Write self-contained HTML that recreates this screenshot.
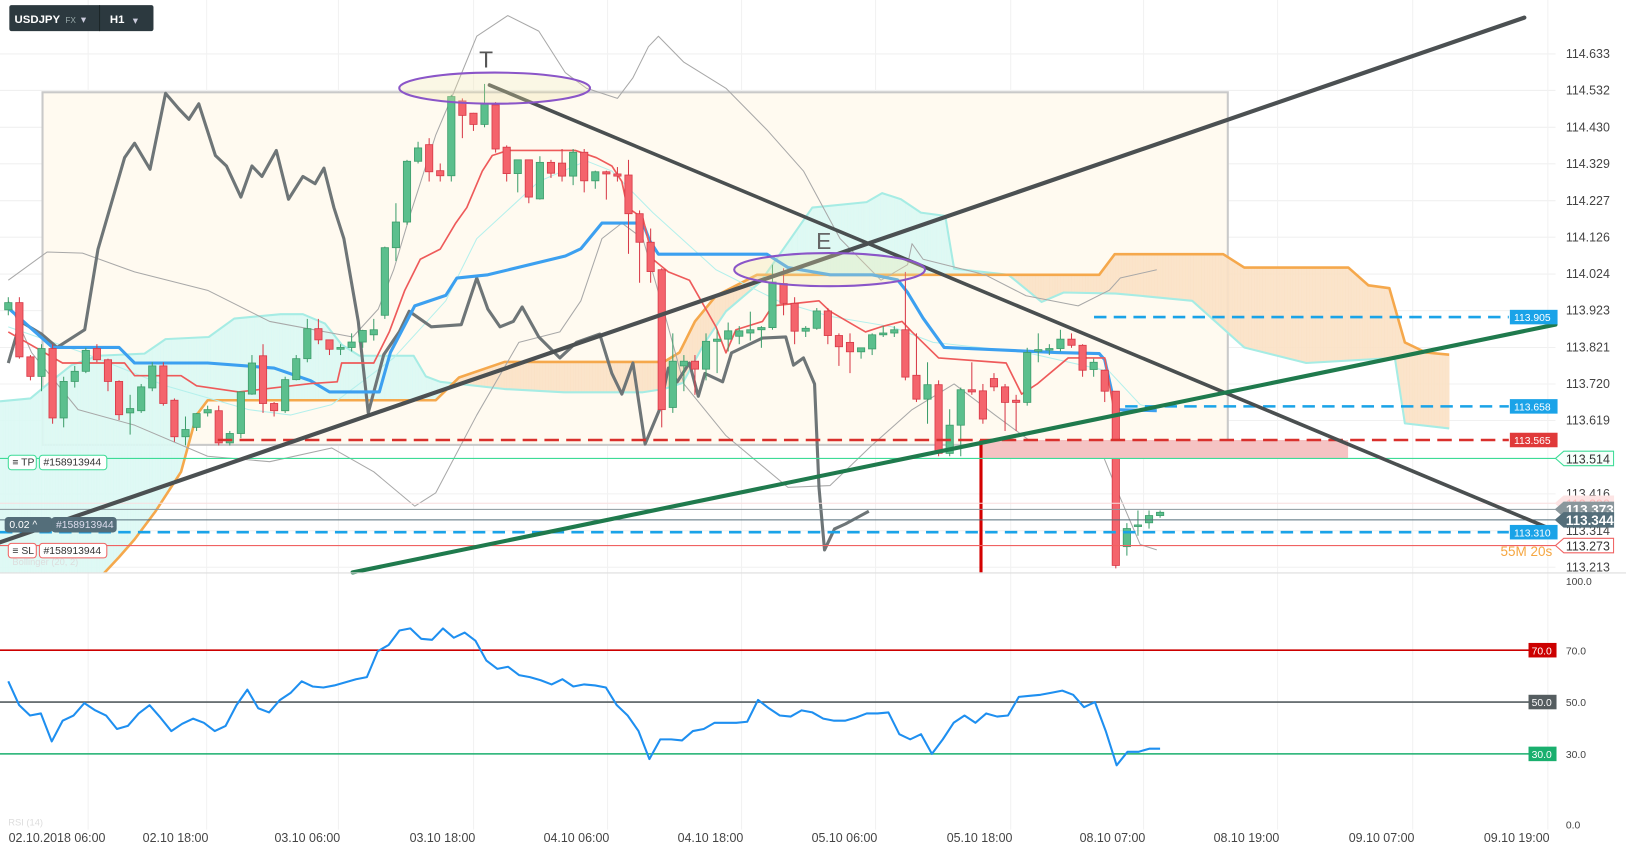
<!DOCTYPE html>
<html><head><meta charset="utf-8"><style>
html,body{margin:0;padding:0;background:#fff;width:1626px;height:855px;overflow:hidden}
svg{display:block;font-family:"Liberation Sans",sans-serif}
</style></head><body>
<svg id="chart" width="1626" height="855" viewBox="0 0 1568 824.5" preserveAspectRatio="none">
<defs><clipPath id="plotClip"><rect x="0" y="0" width="1500" height="552"/></clipPath>
<clipPath id="rsiClip"><rect x="0" y="553" width="1500" height="250"/></clipPath></defs>
<g id="grid"></g>
<rect x="41" y="89" width="1143" height="340" fill="#fffaf0" stroke="#c9c9c9" stroke-width="2"/>
<g id="cloud" clip-path="url(#plotClip)"></g>
<g id="lines" clip-path="url(#plotClip)"></g>
<g id="candles" clip-path="url(#plotClip)"></g>
<g id="overlay"></g>
<g id="rsi"></g>
<g id="axes"></g>
</svg>
<script>
// ---------- DATA ----------
const priceTicks=[114.633,114.532,114.430,114.329,114.227,114.126,114.024,113.923,113.821,113.720,113.619,113.416,113.314,113.213];
const timeLabels=["02.10.2018  06:00","02.10  18:00","03.10  06:00","03.10  18:00","04.10  06:00","04.10  18:00","05.10  06:00","05.10  18:00","08.10  07:00","08.10  19:00","09.10  07:00","09.10  19:00"];
const timeLabelBars=[4.4,15.1,27,39.2,51.3,63.4,75.5,87.7,99.7,111.8,124,136.2];
const opens=[113.925,113.945,113.795,113.741,113.818,113.626,113.727,113.755,113.818,113.787,113.727,113.640,113.646,113.709,113.770,113.675,113.574,113.600,113.640,113.646,113.557,113.583,113.692,113.798,113.666,113.646,113.732,113.790,113.873,113.842,113.816,113.821,113.836,113.856,113.910,114.097,114.168,114.336,114.382,114.310,114.296,114.503,114.469,114.438,114.492,114.375,114.302,114.340,114.232,114.333,114.331,114.295,114.361,114.282,114.307,114.301,114.298,114.191,114.112,114.036,113.655,113.770,113.783,113.761,113.838,113.844,113.852,113.861,113.870,113.876,113.998,113.943,113.866,113.874,113.922,113.854,113.835,113.809,113.817,113.856,113.861,113.870,113.744,113.678,113.718,113.528,113.606,113.704,113.701,113.735,113.712,113.675,113.669,113.813,113.815,113.818,113.844,113.827,113.760,113.758,113.700,113.270,113.326,113.336,113.356];
const closes=[113.945,113.795,113.741,113.818,113.626,113.727,113.755,113.813,113.787,113.727,113.635,113.652,113.712,113.770,113.666,113.574,113.594,113.638,113.649,113.557,113.583,113.698,113.778,113.666,113.646,113.732,113.790,113.873,113.842,113.816,113.821,113.836,113.868,113.870,114.097,114.168,114.336,114.373,114.307,114.296,114.515,114.463,114.438,114.495,114.370,114.302,114.340,114.237,114.333,114.303,114.295,114.361,114.282,114.307,114.301,114.295,114.191,114.112,114.031,113.649,113.783,113.783,113.761,113.838,113.844,113.867,113.867,113.870,113.876,114.002,113.943,113.866,113.874,113.922,113.854,113.823,113.809,113.820,113.856,113.861,113.870,113.739,113.678,113.718,113.528,113.606,113.704,113.698,113.623,113.712,113.669,113.669,113.807,113.815,113.818,113.844,113.827,113.758,113.780,113.700,113.218,113.320,113.330,113.356,113.365];
const highs=[113.96,113.96,113.80,113.83,113.83,113.74,113.77,113.82,113.83,113.79,113.73,113.69,113.72,113.78,113.78,113.68,113.63,113.64,113.66,113.66,113.59,113.70,113.80,113.83,113.67,113.74,113.80,113.90,113.90,113.84,113.83,113.86,113.87,113.90,114.10,114.22,114.34,114.39,114.40,114.33,114.52,114.51,114.47,114.55,114.50,114.38,114.34,114.34,114.35,114.34,114.37,114.37,114.37,114.31,114.31,114.32,114.34,114.20,114.15,114.04,113.86,113.80,113.80,113.86,113.87,113.89,113.88,113.92,113.88,114.05,114.04,113.96,113.88,113.93,113.93,113.86,113.86,113.82,113.86,113.88,113.88,114.03,113.86,113.78,113.73,113.65,113.71,113.78,113.72,113.75,113.72,113.69,113.82,113.86,113.83,113.87,113.86,113.83,113.79,113.76,113.70,113.335,113.37,113.37,113.37];
const lows=[113.91,113.79,113.73,113.70,113.61,113.60,113.71,113.75,113.78,113.70,113.62,113.58,113.64,113.70,113.66,113.56,113.55,113.59,113.63,113.55,113.55,113.57,113.69,113.64,113.63,113.64,113.73,113.78,113.83,113.80,113.80,113.81,113.82,113.84,113.90,114.06,114.16,114.33,114.28,114.28,114.28,114.40,114.42,114.43,114.36,114.28,114.25,114.22,114.23,114.29,114.28,114.27,114.25,114.26,114.23,114.28,114.08,114.00,114.00,113.60,113.64,113.70,113.69,113.73,113.75,113.81,113.83,113.84,113.82,113.87,113.91,113.83,113.85,113.87,113.83,113.77,113.75,113.79,113.80,113.85,113.85,113.73,113.67,113.61,113.52,113.52,113.52,113.69,113.61,113.70,113.59,113.59,113.66,113.78,113.80,113.81,113.82,113.74,113.74,113.67,113.21,113.245,113.30,113.32,113.35];
const kijunBars=[0,4,10,11.4,18,24,27.3,29,33.5,34.5,36.7,39.5,40.5,43.3,50.3,51.7,53.6,57.3,57.9,58.7,68.5,70.4,74.2,78,80.3,81.2,82.6,84.5,94.7,98.5,99,100,103.7];
const kijunVals=[113.930,113.821,113.821,113.778,113.778,113.764,113.729,113.698,113.698,113.807,113.936,113.965,114.013,114.022,114.074,114.094,114.165,114.165,114.117,114.079,114.079,114.042,114.022,114.022,114.008,113.973,113.902,113.821,113.807,113.804,113.787,113.649,113.646];
const tenkanBars=[0,4.9,10.5,11.4,15.6,17,20.8,27.3,29.7,30.1,33,34.4,35.8,37.2,39,40.4,41.4,42.8,43.7,45.1,51.2,53.1,54.5,55.4,55.9,57.3,58.2,59.6,61.5,63.9,64.8,65.7,68.1,69,73.2,74.2,77.4,78.8,80.7,81.6,84,90.1,91.5,92.9,95.7,99,100.4,102.2];
const tenkanVals=[113.864,113.778,113.778,113.743,113.743,113.715,113.698,113.721,113.726,113.778,113.778,113.864,113.979,114.065,114.093,114.165,114.208,114.309,114.352,114.366,114.366,114.346,114.323,114.280,114.208,114.179,114.065,114.030,114.007,113.878,113.806,113.870,113.893,113.936,113.950,113.921,113.864,113.878,113.893,113.864,113.792,113.778,113.692,113.720,113.792,113.792,113.548,113.543];
const chikouBars=[0,1.1,3,4.4,6.9,8.1,9.6,10.5,11.4,12.8,14.2,15.4,16.3,17.2,18.7,19.7,21,22,22.9,24.2,25.3,26.6,27.7,28.5,29.4,30.3,31.6,32.5,33.9,35.3,36.2,38.2,40.9,42.3,43.3,44.4,45.6,46.4,47.9,49.8,51.3,53.4,54.5,55.4,56.4,57.5,58.8,59.6,60.4,61.5,62.3,62.9,64.5,65.3,68.1,70.2,70.9,71.8,72.8,73.2,73.7,74.6,75.6,76.5,77.7];
const chikouVals=[113.778,113.893,113.858,113.821,113.870,114.093,114.251,114.346,114.386,114.314,114.524,114.481,114.452,114.495,114.352,114.323,114.237,114.323,114.294,114.366,114.231,114.294,114.274,114.317,114.208,114.122,113.893,113.640,113.801,113.864,113.921,113.878,113.884,114.013,113.927,113.878,113.893,113.933,113.850,113.792,113.835,113.858,113.749,113.692,113.778,113.554,113.649,113.764,113.726,113.778,113.686,113.749,113.726,113.806,113.847,113.850,113.772,113.792,113.720,113.434,113.261,113.319,113.333,113.348,113.368];
const bbUpBars=[0,3.5,6.7,11.4,18,23.6,31.1,33.4,34.8,36.2,38.6,40,42.3,45.1,47.9,50.3,52.2,55,56.4,57.8,58.7,61,64.8,68.5,71.8,75.1,78.8,81.2,81.6,82.6,88.2,91.9,96.6,99.4,100.4,103.7];
const bbUpVals=[114.007,114.085,114.082,114.030,113.979,113.893,113.850,113.927,114.036,114.180,114.409,114.510,114.682,114.739,114.696,114.581,114.538,114.510,114.567,114.653,114.682,114.610,114.538,114.423,114.309,114.122,114.007,114.050,114.108,114.065,114.022,113.964,113.936,113.979,114.013,114.036];
const bbLoBars=[0,2.1,6.3,11.4,18,23.6,29.2,33,36.7,38.6,42.3,46.1,49.8,51.7,53.6,55.4,57.3,59.2,61,64.8,70.4,74.2,77.9,81.6,85.4,89.1,92.9,98.5,100.4,102.2,103.7];
const bbLoVals=[113.950,113.807,113.649,113.606,113.520,113.505,113.543,113.477,113.382,113.419,113.634,113.835,113.864,113.950,114.122,114.165,114.122,113.921,113.720,113.577,113.434,113.439,113.548,113.649,113.720,113.634,113.548,113.548,113.405,113.276,113.261];
const bbMidBars=[0,6.7,14.2,21.7,25.5,29.2,34.8,39.5,42.3,47.9,52.2,54.5,58.2,63.9,69.5,74.2,79.8,83.5,91.9,99.4,102.2,103.7];
const bbMidVals=[113.878,113.807,113.715,113.649,113.634,113.663,113.792,113.950,114.122,114.280,114.337,114.309,114.194,114.036,113.950,113.907,113.878,113.835,113.807,113.755,113.663,113.649];
const spanABars=[-0.75,2,3.8,5.7,8.1,12.3,14.2,18.1,20.4,24.6,26.6,28.6,30.1,31.7,36.6,37.7,39,44.8,50.2,57.3,59.2,60.9,62.9,64.8,67.9,72.6,77.5,78.9,80.6,82.4,84.6,85.4,90.3,93.3,95.3,100,102.2,106.9,111.6,117.2,125.2,126.1,130.1];
const spanAVals=[113.672,113.680,113.726,113.772,113.798,113.804,113.844,113.850,113.901,113.913,113.913,113.887,113.829,113.798,113.798,113.741,113.726,113.706,113.697,113.697,113.706,113.723,113.835,113.921,114.002,114.208,114.223,114.248,114.231,114.194,114.185,114.039,114.022,113.947,113.973,113.970,113.964,113.950,113.821,113.778,113.792,113.611,113.597];
const spanBBars=[-0.75,8.6,10,11.4,13.3,15.6,17,18,38.6,40.7,44.8,59.2,60.6,62,63.9,67.6,98.5,99.9,109.7,111.6,121,122.8,124.7,126.1,128,130.1];
const spanBVals=[113.195,113.195,113.241,113.290,113.368,113.477,113.634,113.675,113.675,113.738,113.781,113.781,113.807,113.893,113.964,114.022,114.022,114.079,114.079,114.042,114.042,113.993,113.985,113.835,113.807,113.801];
const rsiVals=[58,48.8,44.8,45.6,34.8,42.8,44.8,49.6,46.8,44.8,39.6,40.8,45.6,48.8,44,38.8,41.6,43.6,42,38.8,40.8,48.8,54.8,47.6,46,50.8,53.6,58,56,55.6,56.4,57.6,58.8,59.6,69.6,72,77.6,78.4,74.4,74,78.4,74.8,76.8,73.6,66,62.8,63.6,60.4,59.6,58.4,56.8,58.8,56,56.8,56.4,55.6,48.8,44.8,38.8,28,35.6,35.6,35.2,38.8,39.6,42,42,42,42.4,50.8,47.6,44.8,44.4,46.8,46,43.6,42.8,42.8,44,45.6,45.6,46,37.6,35.6,37.6,30,35.6,42,44.8,42,45.6,44.4,44.8,52,52.4,52.8,53.6,54.4,52.8,48,50,38.8,25.6,30.8,30.8,32,32];
const rsiTicks=[100,70,50,30,0];
const levels={tp:113.514,sl:113.273,limitRed:113.565,blueA:113.905,blueB:113.658,blueC:113.310,last:113.344,bid:113.373};

// ---------- SCALES ----------
const X0=8, BAR=10.68;
function xb(b){return X0+b*BAR;}
function yp(p){return 52+(114.633-p)*348.6;}
function yr(v){return 802-v*2.5;}
const NS="http://www.w3.org/2000/svg";
function mk(tag,attrs,parent){const e=document.createElementNS(NS,tag);for(const k in attrs)e.setAttribute(k,attrs[k]);parent.appendChild(e);return e;}
function interp(bars,vals,b){if(b<=bars[0])return vals[0];for(let i=1;i<bars.length;i++){if(b<=bars[i]){const t=(b-bars[i-1])/(bars[i]-bars[i-1]);return vals[i-1]+t*(vals[i]-vals[i-1]);}}return vals[vals.length-1];}
const $=id=>document.getElementById(id);

// ---------- GRID ----------
const grid=$("grid");
priceTicks.forEach(p=>{const l=mk("line",{x1:0,x2:1500,y1:yp(p),y2:yp(p),stroke:"#f0f0f0","stroke-width":1},grid);

});
timeLabelBars.forEach(b=>{const x=xb(b)+30;const l=mk("line",{x1:x,x2:x,y1:0,y2:800,stroke:"#f2f2f2","stroke-width":1},grid);

});

// ---------- CLOUD ----------
const cloud=$("cloud");
for(let b=-0.75;b<130.1;b+=0.25){
  const b2=Math.min(b+0.25,130.1);
  const a1=interp(spanABars,spanAVals,b),a2=interp(spanABars,spanAVals,b2);
  const c1=interp(spanBBars,spanBVals,b),c2=interp(spanBBars,spanBVals,b2);
  const up=(a1+a2)>=(c1+c2);
  const q=mk("polygon",{points:`${xb(b)},${yp(a1)} ${xb(b2)},${yp(a2)} ${xb(b2)},${yp(c2)} ${xb(b)},${yp(c1)}`,fill:up?"#dcf9f4":"#fbe2c6",stroke:up?"#dcf9f4":"#fbe2c6","stroke-width":0.6,opacity:0.9},cloud);
  
  
}
function poly(bars,vals,color,w,name,parent){
  const pts=bars.map((b,i)=>xb(b)+","+yp(vals[i])).join(" ");
  const e=mk("polyline",{points:pts,fill:"none",stroke:color,"stroke-width":w,"stroke-linejoin":"round"},parent);
  
  
  return e;
}
poly(spanABars,spanAVals,"#a6ece4",2,"senkou-span-a",cloud);
poly(spanBBars,spanBVals,"#f5a84c",2.5,"senkou-span-b",cloud);

// ---------- INDICATORS ----------
const lines=$("lines");
poly(bbUpBars,bbUpVals,"#a8a8a8",1,"bollinger-upper",lines);
poly(bbLoBars,bbLoVals,"#a8a8a8",1,"bollinger-lower",lines);
poly(bbMidBars,bbMidVals,"#b4f0ec",1,"bollinger-middle",lines);
poly(chikouBars,chikouVals,"#6e7577",3,"chikou-span",lines);
poly(kijunBars,kijunVals,"#3ca0f0",3,"kijun-sen",lines);
poly(tenkanBars,tenkanVals,"#ee5a5a",1.6,"tenkan-sen",lines);

// ---------- CANDLES ----------
const cg=$("candles");
for(let i=0;i<opens.length;i++){
  const up=closes[i]>=opens[i];
  const col=up?"#5bbf8d":"#f4646c", edge=up?"#3e9e6c":"#d83a48";
  const x=xb(i);
  const w=mk("line",{x1:x,x2:x,y1:yp(highs[i]),y2:yp(lows[i]),stroke:edge,"stroke-width":1},cg);
  
  
  const top=yp(Math.max(opens[i],closes[i])),bot=yp(Math.min(opens[i],closes[i]));
  const r=mk("rect",{x:x-3.5,y:top,width:7,height:Math.max(1.5,bot-top),fill:col,stroke:edge,"stroke-width":0.8},cg);
  
  
}

// ---------- DRAWINGS ----------
const ov=$("overlay");
function hline(p,x1,x2,color,w,dash,name){const y=yp(p);const e=mk("line",{x1:x1,x2:x2,y1:y,y2:y,stroke:color,"stroke-width":w},ov);if(dash)e.setAttribute("stroke-dasharray",dash);

return e;}
const pink=mk("rect",{x:945,y:yp(levels.limitRed),width:355,height:yp(levels.tp)-yp(levels.limitRed),fill:"#f5c3c3"},ov);


const rv=mk("line",{x1:946,x2:946,y1:yp(levels.limitRed),y2:552,stroke:"#d40000","stroke-width":3},ov);


hline(113.39,0,1500,"#f8dede",1,null,"ask-line");
hline(levels.bid,0,1500,"#8a979c",1,null,"bid-line");
hline(levels.last,0,1500,"#546e7a",1,null,"last-price-line");
hline(levels.sl,0,1500,"#f06262",1,null,"stop-loss-line");
hline(levels.tp,0,1500,"#3ddc97",1.2,null,"take-profit-line");
hline(levels.limitRed,210,1455,"#d9302c",2.5,"14 7","resistance-dashed-line");
hline(levels.blueA,1055,1455,"#1aa3e8",2.5,"12 7","blue-level-113905");
hline(levels.blueB,1085,1455,"#1aa3e8",2.5,"12 7","blue-level-113658");
hline(levels.blueC,0,1455,"#1aa3e8",2.5,"12 7","blue-level-113310");
function seg(x1,y1,x2,y2,c,w,name){const e=mk("line",{x1,y1,x2,y2,stroke:c,"stroke-width":w,"stroke-linecap":"round"},ov);

}
seg(0,523,1470,17,"#4b5052",4,"rising-trendline");
seg(472,82,1500,512,"#4a4f50",3.5,"falling-trendline");
seg(340,552,1500,313,"#1f7a4d",4,"green-trendline");
const e1=mk("ellipse",{cx:477,cy:85,rx:92,ry:15,fill:"rgba(240,230,170,0.3)",stroke:"#8a55c8","stroke-width":2},ov);


const e2=mk("ellipse",{cx:800,cy:260,rx:92,ry:16,fill:"rgba(240,230,170,0.3)",stroke:"#8a55c8","stroke-width":2},ov);


function txt(x,y,s,attrs,name,parent){const t=mk("text",Object.assign({x,y},attrs),parent||ov);t.textContent=s;

return t;}
txt(462,65,"T",{"font-size":22,fill:"#555"},"label-t");
txt(787,240,"E",{"font-size":22,fill:"#666"},"label-e");

// toolbar
const tb=mk("rect",{x:9,y:5,width:139,height:25,rx:2,fill:"#2c393f"},ov);


txt(14,22,"USDJPY",{"font-size":11,"font-weight":"bold",fill:"#fff"},"symbol-name");
txt(63,22,"FX",{"font-size":8,fill:"#9aa"},"market-type");
txt(78,22,"▾",{"font-size":10,fill:"#ccd"},"market-dropdown");
const sp=mk("line",{x1:96,x2:96,y1:5,y2:30,stroke:"#1c2528"},ov);


txt(106,22,"H1",{"font-size":11,"font-weight":"bold",fill:"#fff"},"timeframe");
txt(128,23,"▾",{"font-size":10,fill:"#ccd"},"timeframe-dropdown");

// order tags on left
function box(x,y,w,h,fill,stroke,s,tc,name){const r=mk("rect",{x,y,width:w,height:h,rx:3,fill,stroke,"stroke-width":1},ov);


txt(x+4,y+h-4,s,{"font-size":10,fill:tc},name+"-text");}
box(8,439,27,14,"#fff","#3ddc97","≡ TP","#333","tp-tag");
box(38,439,65,14,"#fff","#3ddc97","#158913944","#333","tp-order-id");
box(5,499,45,14,"#546e7a","#546e7a","0.02 ^","#fff","position-size");
box(50,499,62,14,"#546e7a","#546e7a","#158913944","#dde","position-id");
box(8,524,27,14,"#fff","#f06262","≡ SL","#333","sl-tag");
box(38,524,65,14,"#fff","#f06262","#158913944","#333","sl-order-id");
txt(12,545,"Bollinger (20, 2)",{"font-size":9,fill:"#ddd"},"bollinger-legend");

// ---------- RIGHT AXIS ----------
const ax=$("axes");
const sep=mk("line",{x1:0,x2:1626,y1:552.5,y2:552.5,stroke:"#ddd"},ax);


priceTicks.forEach(p=>txt(1510,yp(p)+4,p.toFixed(3),{"font-size":12,fill:"#444"},"price-tick",ax));
function plabel(p,fill,name){const y=yp(p);const r=mk("rect",{x:1456,y:y-7,width:46,height:14,fill},ax);


txt(1460,y+4,p.toFixed(3),{"font-size":10,fill:"#fff"},name+"-text",ax);}
plabel(levels.blueA,"#1aa3e8","label-113905");
plabel(levels.blueB,"#1aa3e8","label-113658");
plabel(levels.limitRed,"#e03a3a","label-113565");
plabel(levels.blueC,"#1aa3e8","label-113310");
function arrowBox(p,fill,stroke,tc,name,bold){const y=yp(p);const pth=mk("path",{d:`M1500 ${y} L1508 ${y-7} L1556 ${y-7} L1556 ${y+7} L1508 ${y+7} Z`,fill,stroke,"stroke-width":1},ax);


txt(1510,y+5,p.toFixed(3),{"font-size":bold?13:12,fill:tc,"font-weight":bold?"bold":"normal"},name+"-text",ax);}
arrowBox(113.39,"#fde4e4","#fde4e4","#fbb","ask-price-tag");
arrowBox(levels.bid,"#8a979c","#8a979c","#fff","bid-price-tag",true);
arrowBox(levels.last,"#546e7a","#546e7a","#fff","last-price-tag",true);
arrowBox(levels.tp,"#f6fffb","#3ddc97","#333","tp-price-tag");
arrowBox(levels.sl,"#fff","#f06262","#333","sl-price-tag");
txt(1447,536,"55M 20s",{"font-size":13,fill:"#f5a640"},"candle-countdown",ax);

// time axis
timeLabels.forEach((s,i)=>txt(xb(timeLabelBars[i]),812,s,{"font-size":12,fill:"#444","text-anchor":"middle","xml:space":"preserve"},"time-label",ax));

// ---------- RSI ----------
const rg=$("rsi");
function rline(v,c,name){const e=mk("line",{x1:0,x2:1500,y1:yr(v),y2:yr(v),stroke:c,"stroke-width":1.5},rg);

}
rline(70,"#cc0000","rsi-overbought-line");
rline(50,"#555d60","rsi-mid-line");
rline(30,"#1aaf6e","rsi-oversold-line");
function rtag(v,c,name){const r=mk("rect",{x:1474,y:yr(v)-7,width:27,height:14,fill:c},rg);


txt(1477,yr(v)+4,v.toFixed(1),{"font-size":10,fill:"#fff"},name+"-text",rg);}
rtag(70,"#cc0000","rsi-70-tag");rtag(50,"#555d60","rsi-50-tag");rtag(30,"#1aaf6e","rsi-30-tag");
rsiTicks.forEach(v=>txt(1510,Math.min(Math.max(yr(v)+4,564),799),v.toFixed(1),{"font-size":10,fill:"#444"},"rsi-tick",rg));
const rstep=(104)/(rsiVals.length-1);
const rp=mk("polyline",{points:rsiVals.map((v,i)=>xb(i*rstep)+","+yr(v)).join(" "),fill:"none",stroke:"#1e8ff0","stroke-width":2,"stroke-linejoin":"round"},rg);


txt(8,796,"RSI (14)",{"font-size":9,fill:"#ddd"},"rsi-legend",rg);
</script>
</body></html>
